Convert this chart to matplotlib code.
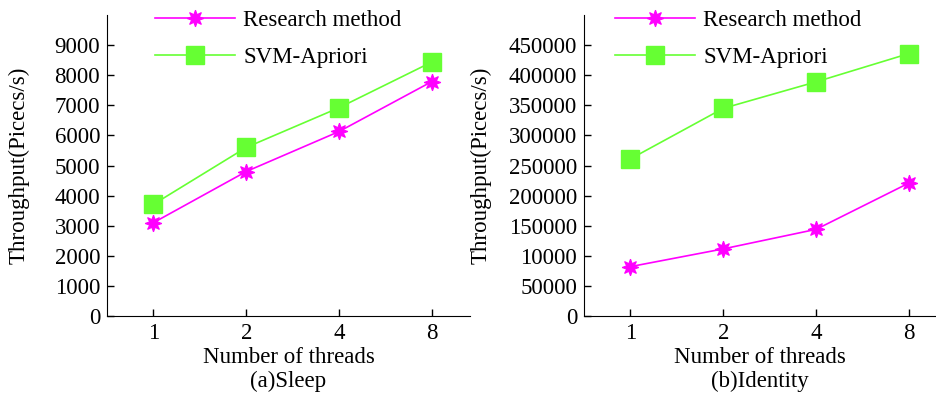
import matplotlib
matplotlib.use("Agg")
import matplotlib.pyplot as plt

plt.rcParams['font.family'] = ['Liberation Serif', 'DejaVu Serif']
plt.rcParams['mathtext.fontset'] = 'stix'

threads = ["1", "2", "4", "8"]
sleep_research = [3100, 4800, 6130, 7790]
sleep_svm = [3710, 5600, 6920, 8440]
ident_research = [82000, 111500, 144000, 221000]
ident_svm = [261000, 345000, 389000, 436000]

sleep_yticks = [0, 1000, 2000, 3000, 4000, 5000, 6000, 7000, 8000, 9000]
sleep_ylabels = [str(v) for v in sleep_yticks]
ident_yticks = [0, 50000, 100000, 150000, 200000, 250000, 300000, 350000, 400000, 450000]
ident_ylabels = ["0", "50000", "10000", "150000", "200000", "250000",
                 "300000", "350000", "400000", "450000"]

MAG = '#ff00ff'
GRN = '#66ff33'
FS = 16.5

fig = plt.figure(figsize=(9.36, 3.94), dpi=100)
ax1 = fig.add_axes([107/936, 78/394, 363/936, 301/394])
ax2 = fig.add_axes([584/936, 78/394, 352/936, 301/394])

star = (8, 1, 0)

def draw(ax, research, svm, yticks, ylabels, ymax, xmax, sub, legx, ylpad):
    x = list(range(len(threads)))
    ax.plot(x, research, color=MAG, lw=1.2, marker=star, ms=12,
            mfc=MAG, mec=MAG, mew=0.8, label='Research method')
    ax.plot(x, svm, color=GRN, lw=1.2, marker='s', ms=12.5,
            mfc=GRN, mec=GRN, label='SVM-Apriori')
    ax.set_xlim(-0.5, xmax)
    ax.set_ylim(0, ymax)
    ax.set_xticks(x)
    ax.set_xticklabels(threads, fontsize=FS)
    ax.set_yticks(yticks)
    ax.set_yticklabels(ylabels, fontsize=FS)
    ax.tick_params(direction='in', length=5, width=1, pad=5)
    ax.spines['top'].set_visible(False)
    ax.spines['right'].set_visible(False)
    ax.set_xlabel('Number of threads\n' + sub, fontsize=FS, linespacing=1.2, labelpad=2)
    ax.set_ylabel('Throughput(Picecs/s)', fontsize=FS, labelpad=ylpad)
    ax.legend(loc='upper left', bbox_to_anchor=(legx/936, 1 - 10/394),
              bbox_transform=fig.transFigure, frameon=False, borderpad=0,
              borderaxespad=0, fontsize=FS, handlelength=3.5,
              handletextpad=0.35, labelspacing=0.7)

draw(ax1, sleep_research, sleep_svm, sleep_yticks, sleep_ylabels, 10000, 3.41, '(a)Sleep', 155, 18)
draw(ax2, ident_research, ident_svm, ident_yticks, ident_ylabels, 500000, 3.29, '(b)Identity', 615, 12)

fig.savefig('out.png', dpi=100)
